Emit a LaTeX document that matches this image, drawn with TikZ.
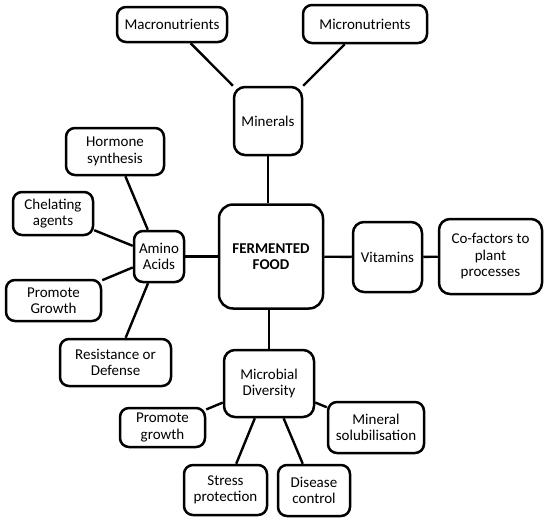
\documentclass[tikz,border=0pt]{standalone}
\usepackage{fontspec}
\setmainfont{Carlito}
\usepackage{tikz}

\tikzset{
  box/.style={draw,line width=2.5pt,rounded corners=9pt,align=center,inner sep=0pt,
    font=\fontsize{15}{16.5}\selectfont},
  link/.style={line width=2.4pt}
}

\begin{document}
\begin{tikzpicture}[x=1pt,y=-1pt]
\useasboundingbox (0,0) rectangle (550,523);
% centre
\node[box,rounded corners=14pt,minimum width=104pt,minimum height=104pt] (food) at (271,256.5) {\textbf{FERMENTED}\\\textbf{FOOD}};
% minerals branch
\node[box,rounded corners=11pt,minimum width=68pt,minimum height=68pt] (minerals) at (268,121) {Minerals};
\node[box,minimum width=110pt,minimum height=35pt] (macro) at (172,24.5) {Macronutrients};
\node[box,minimum width=124pt,minimum height=38pt] (micro) at (365,24) {Micronutrients};
% vitamins branch
\node[box,rounded corners=11pt,minimum width=69pt,minimum height=70pt] (vitamins) at (387.5,257) {Vitamins};
\node[box,rounded corners=11pt,minimum width=103pt,minimum height=75pt] (cofactors) at (490.5,256.5) {Co-factors to\\plant\\processes};
% amino acids branch
\node[box,minimum width=50pt,minimum height=51pt] (amino) at (159,256.5) {Amino\\Acids};
\node[box,minimum width=98pt,minimum height=47pt] (hormone) at (115,151.5) {Hormone\\synthesis};
\node[box,minimum width=80pt,minimum height=43pt] (chelating) at (53,213.5) {Chelating\\agents};
\node[box,minimum width=95pt,minimum height=41pt] (promoteG) at (53.5,300.5) {Promote\\Growth};
\node[box,minimum width=111pt,minimum height=47pt] (resistance) at (115.5,362.5) {Resistance or\\Defense};
% microbial branch
\node[box,rounded corners=11pt,minimum width=90pt,minimum height=67pt] (microbial) at (269,383.5) {Microbial\\Diversity};
\node[box,minimum width=85pt,minimum height=39pt] (promoteg) at (162.5,427.5) {Promote\\growth};
\node[box,minimum width=83pt,minimum height=50pt] (stress) at (225.5,490) {Stress\\protection};
\node[box,minimum width=72pt,minimum height=51pt] (disease) at (314,490.5) {Disease\\control};
\node[box,minimum width=96pt,minimum height=51pt] (minsol) at (376,427.5) {Mineral\\solubilisation};
% links
\draw[link] (minerals.south) -- (minerals.south |- food.north);
\draw[link] (microbial.north) -- (microbial.north |- food.south);
\foreach \a/\b in {macro/minerals,micro/minerals,food/vitamins,vitamins/cofactors,food/amino,
  hormone/amino,chelating/amino,promoteG/amino,resistance/amino,
  promoteg/microbial,stress/microbial,disease/microbial,minsol/microbial}
  \draw[link] (\a) -- (\b);
\end{tikzpicture}
\end{document}
